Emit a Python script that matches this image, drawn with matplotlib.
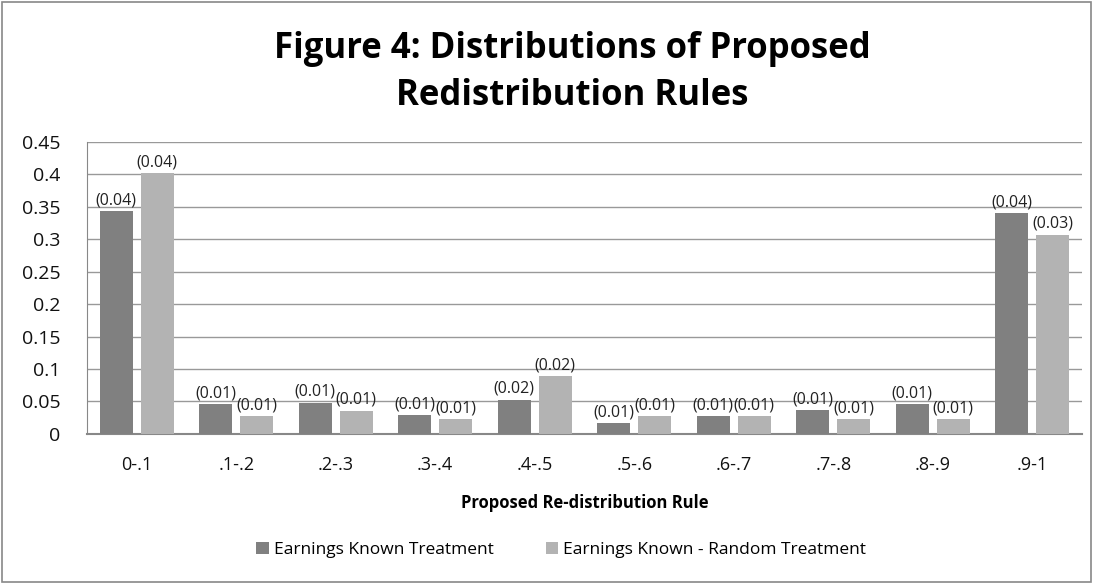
import numpy as np
import matplotlib
matplotlib.use("Agg")
import matplotlib.pyplot as plt
from matplotlib.patches import Rectangle

categories = ["0-.1", ".1-.2", ".2-.3", ".3-.4", ".4-.5", ".5-.6", ".6-.7", ".7-.8", ".8-.9", ".9-1"]
known = [0.343, 0.046, 0.048, 0.029, 0.053, 0.017, 0.027, 0.037, 0.046, 0.340]
known_random = [0.402, 0.027, 0.036, 0.023, 0.089, 0.027, 0.027, 0.023, 0.023, 0.307]
known_se = ["(0.04)", "(0.01)", "(0.01)", "(0.01)", "(0.02)", "(0.01)", "(0.01)", "(0.01)", "(0.01)", "(0.04)"]
random_se = ["(0.04)", "(0.01)", "(0.01)", "(0.01)", "(0.02)", "(0.01)", "(0.01)", "(0.01)", "(0.01)", "(0.03)"]
series_names = ["Earnings Known Treatment", "Earnings Known - Random Treatment"]

plt.rcParams['font.family'] = ['Open Sans', 'DejaVu Sans']

fig = plt.figure(figsize=(10.94, 5.84), dpi=100)
ax = fig.add_axes([0.0795, 0.257, 0.9095, 0.5])

x = np.arange(len(categories))
w = 0.33
off = 0.205
b1 = ax.bar(x - off, known, w, color="#808080", label=series_names[0], zorder=3)
b2 = ax.bar(x + off, known_random, w, color="#b3b3b3", label=series_names[1], zorder=3)

for bars, labels in [(b1, known_se), (b2, random_se)]:
    for rect, s in zip(bars, labels):
        ax.annotate(s, (rect.get_x() + rect.get_width() / 2, rect.get_height()),
                    xytext=(0, 2), textcoords="offset points", ha="center", va="bottom",
                    fontsize=11.5, color="#222222")

ax.set_xlim(-0.5, len(categories) - 0.5)
ax.set_ylim(0, 0.45)
ax.set_yticks(np.arange(0, 0.451, 0.05))
ax.set_yticklabels(["0", "0.05", "0.1", "0.15", "0.2", "0.25", "0.3", "0.35", "0.4", "0.45"])
ax.set_xticks(x)
ax.set_xticklabels(categories)
ax.tick_params(axis="both", length=0, colors="#111111")
ax.tick_params(axis="y", labelsize=14, pad=19)
ax.tick_params(axis="x", labelsize=13, pad=16)
ax.grid(axis="y", color="#999999", linewidth=1, zorder=0)
for sp in ["top", "right"]:
    ax.spines[sp].set_visible(False)
ax.spines["left"].set_color("#888888")
ax.spines["bottom"].set_color("#888888")
ax.spines["bottom"].set_linewidth(1.5)

ax.set_xlabel("Proposed Re-distribution Rule", fontsize=12, fontweight="bold", labelpad=14)

fig.text(0.523, 0.876, "Figure 4: Distributions of Proposed\nRedistribution Rules",
         ha="center", va="center", fontsize=25, fontweight="bold", linespacing=1.4)

fig.legend(handles=[b1, b2], labels=series_names, loc="center", bbox_to_anchor=(0.513, 0.058),
           ncol=2, frameon=False, handlelength=0.7, handleheight=0.7,
           columnspacing=3, handletextpad=0.3, prop={'size': 12.5})

fig.patches.append(Rectangle((0.002, 0.003), 0.995, 0.993, transform=fig.transFigure,
                             fill=False, edgecolor="#888888", linewidth=1.2))

fig.savefig("out.png", dpi=100)
